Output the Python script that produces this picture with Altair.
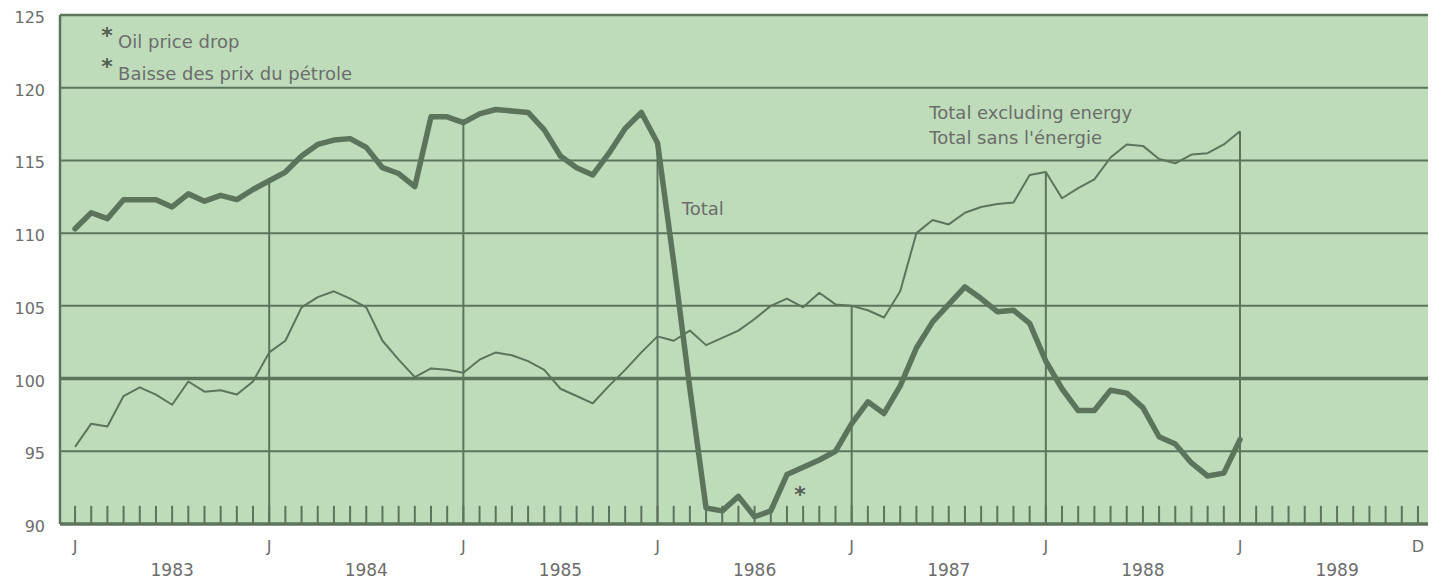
import altair as alt
import pandas as pd

# ---- data (month index 0 = Jan 1983) ----
total = [
    110.3, 111.4, 111.0, 112.3, 112.3, 112.3, 111.8, 112.7, 112.2, 112.6, 112.3, 113.0,
    113.6, 114.2, 115.3, 116.1, 116.4, 116.5, 115.9, 114.5, 114.1, 113.2, 118.0, 118.0,
    117.6, 118.2, 118.5, 118.4, 118.3, 117.1, 115.3, 114.5, 114.0, 115.5, 117.2, 118.3,
    116.2, 108.0, 99.3, 91.1, 90.9, 91.9, 90.5, 90.9, 93.4, 93.9, 94.4, 95.0,
    96.9, 98.4, 97.6, 99.5, 102.1, 103.9, 105.1, 106.3, 105.5, 104.6, 104.7, 103.8,
    101.2, 99.3, 97.8, 97.8, 99.2, 99.0, 98.0, 96.0, 95.5, 94.2, 93.3, 93.5,
    95.8,
]
excl = [
    95.3, 96.9, 96.7, 98.8, 99.4, 98.9, 98.2, 99.8, 99.1, 99.2, 98.9, 99.8,
    101.8, 102.6, 104.9, 105.6, 106.0, 105.5, 104.9, 102.6, 101.3, 100.1, 100.7, 100.6,
    100.4, 101.3, 101.8, 101.6, 101.2, 100.6, 99.3, 98.8, 98.3, 99.5, 100.6, 101.8,
    102.9, 102.6, 103.3, 102.3, 102.8, 103.3, 104.1, 105.0, 105.5, 104.9, 105.9, 105.1,
    105.0, 104.7, 104.2, 106.0, 110.0, 110.9, 110.6, 111.4, 111.8, 112.0, 112.1, 114.0,
    114.2, 112.4, 113.1, 113.7, 115.2, 116.1, 116.0, 115.1, 114.8, 115.4, 115.5, 116.1,
    117.0,
]
grid_values = [90, 95, 100, 105, 110, 115, 120, 125]
grid_widths = [3.5, 2, 3.5, 2, 2, 2, 2, 2.5]
y_labels = ["90", "95", "100", "105", "110", "115", "120", "125"]
month_labels = ["J", "J", "J", "J", "J", "J", "J", "D"]
month_label_pos = [0, 12, 24, 36, 48, 60, 72, 83]
years = ["1983", "1984", "1985", "1986", "1987", "1988", "1989"]
year_pos = [6, 18, 30, 42, 54, 66, 78]
year_starts = [12, 24, 36, 48, 60, 72]
tick_months = list(range(0, 84))

ann_text = ["Oil price drop", "Baisse des prix du pétrole",
            "Total excluding energy", "Total sans l'énergie", "Total"]
ann_m = [2.66, 2.66, 52.8, 52.8, 37.5]
ann_v = [123.05, 120.85, 118.2, 116.5, 111.6]
star_m = [1.98, 1.98, 44.8]
star_v = [123.8, 121.7, 92.3]

# ---- style ----
LINE = "#5d745c"
TEXT = "#6c6c6c"
BG = "#bedcba"
FONT = "DejaVu Sans"
W, H = 1368, 509

months = list(range(len(total)))
df_lines = pd.DataFrame({"m": months, "total": total, "excl": excl})
df_grid = pd.DataFrame({"v": grid_values, "w": grid_widths, "lab": y_labels})
df_mlab = pd.DataFrame({"m": month_label_pos, "lab": month_labels})
df_year = pd.DataFrame({"m": year_pos, "lab": years})
df_vr = pd.DataFrame({"m": year_starts,
                      "top": [max(total[i], excl[i]) for i in year_starts],
                      "bot": [90] * len(year_starts)})
df_ticks = pd.DataFrame({"m": tick_months, "a": [90] * 84, "b": [91.25] * 84})
df_ann = pd.DataFrame({"m": ann_m, "v": ann_v, "t": ann_text})
df_star = pd.DataFrame({"m": star_m, "v": star_v, "t": ["*"] * 3})

xs = alt.Scale(domain=[-0.93, 83.62], nice=False, zero=False)
ys = alt.Scale(domain=[90, 125], nice=False, zero=False)
X = lambda f="m": alt.X(f"{f}:Q", scale=xs, axis=None)
Y = lambda f="v": alt.Y(f"{f}:Q", scale=ys, axis=None)

grid = alt.Chart(df_grid).mark_rule(color=LINE).encode(
    y=Y("v"), x=alt.value(0), x2=alt.value(W),
    strokeWidth=alt.StrokeWidth("w:Q", scale=None))

left_border = alt.Chart(pd.DataFrame({"a": [90], "b": [125]})).mark_rule(
    color=LINE, strokeWidth=2.5).encode(x=alt.value(0), y=Y("a"), y2="b:Q")

ticks = alt.Chart(df_ticks).mark_rule(color=LINE, strokeWidth=2).encode(
    x=X(), y=Y("a"), y2="b:Q")

vrules = alt.Chart(df_vr).mark_rule(color=LINE, strokeWidth=2).encode(
    x=X(), y=Y("bot"), y2="top:Q")

thin = alt.Chart(df_lines).mark_line(color=LINE, strokeWidth=2, strokeJoin="round").encode(
    x=X(), y=Y("excl"))
thick = alt.Chart(df_lines).mark_line(color=LINE, strokeWidth=5.5, strokeJoin="round",
                                      strokeCap="round").encode(x=X(), y=Y("total"))

ylab = alt.Chart(df_grid).mark_text(align="right", baseline="middle", dy=3,
                                    font=FONT, fontSize=16, color=TEXT).encode(
    x=alt.value(-15), y=Y("v"), text="lab:N")

mlab = alt.Chart(df_mlab).mark_text(align="center", baseline="middle",
                                    font=FONT, fontSize=16, color=TEXT).encode(
    x=X(), y=alt.value(532), text="lab:N")
ylab2 = alt.Chart(df_year).mark_text(align="center", baseline="middle",
                                     font=FONT, fontSize=17, color=TEXT).encode(
    x=X(), y=alt.value(556), text="lab:N")

ann = alt.Chart(df_ann).mark_text(align="left", baseline="middle",
                                  font=FONT, fontSize=18, color=TEXT).encode(
    x=X(), y=Y("v"), text="t:N")
stars = alt.Chart(df_star).mark_text(align="center", baseline="middle", dy=4,
                                     font=FONT, fontSize=22, fontWeight="bold",
                                     color="#556055").encode(
    x=X(), y=Y("v"), text="t:N")

chart = alt.layer(grid, left_border, ticks, vrules, thin, thick,
                  ylab, mlab, ylab2, ann, stars).properties(
    width=W, height=H,
    autosize=alt.AutoSizeParams(type="none"),
    padding={"left": 52, "top": 7, "right": 0, "bottom": 55},
    background="white",
).configure_view(fill=BG, stroke=None)

chart.save("out.html", embed_options={"renderer": "svg", "actions": False})
